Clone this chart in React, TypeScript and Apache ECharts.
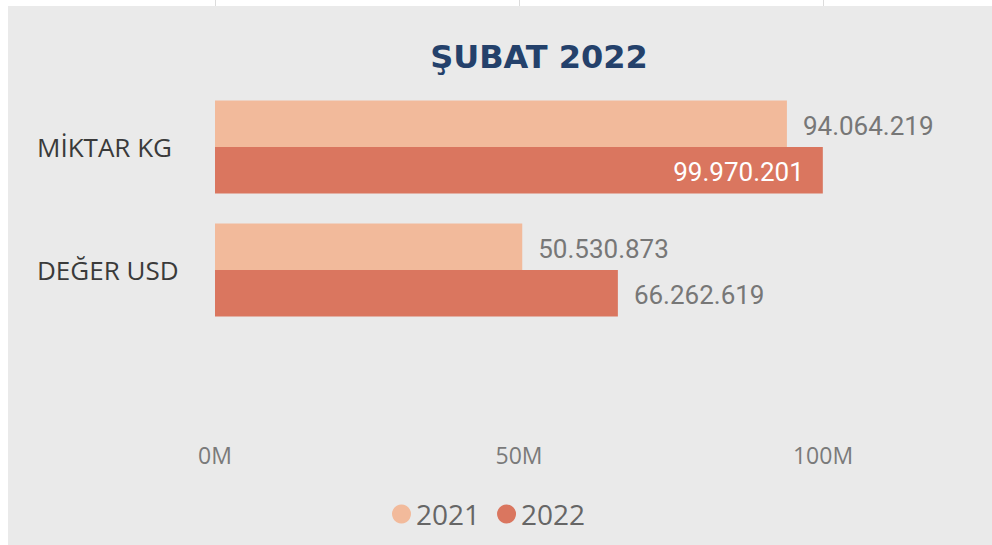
import React, { useEffect, useRef } from "react";
import * as echarts from "echarts";

const categories = ["MİKTAR KG", "DEĞER USD"];
const seriesNames = ["2021", "2022"];
const values2021 = [94064219, 50530873];
const values2022 = [99970201, 66262619];
const axisTicks = [0, 50000000, 100000000];

const fmt = (v: number) => String(v).replace(/\B(?=(\d{3})+(?!\d))/g, ".");

export default function App() {
  const ref = useRef<HTMLDivElement>(null);
  useEffect(() => {
    if (!ref.current) return;
    const chart = echarts.init(ref.current, undefined, { renderer: "svg" });
    const outsideLabel = {
      show: true,
      position: "right",
      distance: 16,
      offset: [0, 2],
      color: "#777777",
      fontFamily: "Roboto",
      fontSize: 26,
      formatter: (p: any) => fmt(p.value),
    };
    chart.setOption({
      animation: false,
      backgroundColor: "#ffffff",
      graphic: [
        {
          type: "rect",
          z: -10,
          shape: { x: 8, y: 6, width: 984, height: 539 },
          style: { fill: "#EAEAEA" },
          silent: true,
        },
        {
          type: "text",
          x: 539,
          y: 57,
          style: {
            text: "ŞUBAT 2022",
            align: "center",
            verticalAlign: "middle",
            fontFamily: "DejaVu Sans",
            fontWeight: "bold",
            fontSize: 32,
            fill: "#24416B",
          },
        },
      ],
      grid: [
        { left: 215, right: 169, top: 85.5, height: 246, containLabel: false },
        { left: 215, right: 169, top: 0, height: 6, containLabel: false },
      ],
      legend: {
        data: seriesNames,
        left: 392,
        top: 500,
        padding: 0,
        icon: "circle",
        itemWidth: 19,
        itemHeight: 19,
        itemGap: 17,
        textStyle: { color: "#666666", fontSize: 28, fontFamily: "Open Sans" },
      },
      xAxis: [
        {
          type: "value",
          gridIndex: 0,
          min: axisTicks[0],
          max: axisTicks[axisTicks.length - 1],
          interval: axisTicks[1] - axisTicks[0],
          axisLine: { show: false },
          axisTick: { show: false },
          splitLine: { show: false },
          axisLabel: {
            margin: 112,
            color: "#7a7a7a",
            fontSize: 23,
            fontFamily: "Open Sans",
            formatter: (v: number) => v / 1000000 + "M",
          },
        },
        {
          type: "value",
          gridIndex: 1,
          min: axisTicks[0],
          max: axisTicks[axisTicks.length - 1],
          interval: axisTicks[1] - axisTicks[0],
          axisLine: { show: false },
          axisTick: { show: false },
          axisLabel: { show: false },
          splitLine: { show: true, lineStyle: { color: "#dcdcdc", width: 1 } },
        },
      ],
      yAxis: [
        {
          type: "category",
          gridIndex: 0,
          data: categories,
          inverse: true,
          axisLine: { show: false },
          axisTick: { show: false },
          axisLabel: {
            align: "left",
            margin: 178,
            color: "#3a3a3a",
            fontSize: 26,
            fontFamily: "Open Sans",
            padding: [5, 0, 0, 0],
          },
        },
        {
          type: "category",
          gridIndex: 1,
          data: ["x"],
          show: false,
        },
      ],
      series: [
        {
          name: seriesNames[0],
          type: "bar",
          xAxisIndex: 0,
          yAxisIndex: 0,
          data: values2021,
          barWidth: 46.5,
          barGap: "0%",
          itemStyle: { color: "#F2BA9B" },
          label: outsideLabel,
        },
        {
          name: seriesNames[1],
          type: "bar",
          xAxisIndex: 0,
          yAxisIndex: 0,
          barWidth: 46.5,
          barGap: "0%",
          itemStyle: { color: "#DA765F" },
          label: outsideLabel,
          data: values2022.map((v, i) =>
            i === 0
              ? {
                  value: v,
                  label: {
                    position: "insideRight",
                    distance: 19,
                    color: "#ffffff",
                  },
                }
              : { value: v }
          ),
        },
      ],
    });
    return () => chart.dispose();
  }, []);
  return (
    <div
      ref={ref}
      style={{ position: "fixed", left: 0, top: 0, width: 992, height: 545 }}
    />
  );
}
